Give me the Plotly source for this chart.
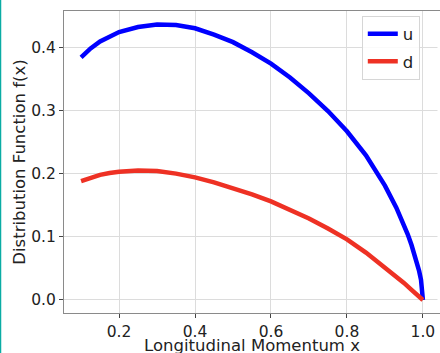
import plotly.graph_objects as go

x_u = [0.10, 0.125, 0.15, 0.175, 0.20, 0.25, 0.30, 0.35, 0.40, 0.45, 0.50, 0.55, 0.60, 0.65,
       0.70, 0.75, 0.80, 0.85, 0.90, 0.93, 0.95, 0.96, 0.97, 0.975, 0.98, 0.99,
       0.995, 1.00]
u_vals = [0.384, 0.398, 0.409, 0.417, 0.424, 0.432, 0.436, 0.435, 0.430, 0.420, 0.408, 0.392,
          0.374, 0.352, 0.327, 0.299, 0.267, 0.229, 0.181, 0.146, 0.119, 0.104,
          0.087, 0.078, 0.068, 0.046, 0.032, 0.0]

x_d = [0.10, 0.125, 0.15, 0.175, 0.20, 0.25, 0.30, 0.35, 0.40, 0.45, 0.50, 0.55, 0.60, 0.65,
       0.70, 0.75, 0.80, 0.85, 0.90, 0.95, 0.97, 0.99, 1.00]
d_vals = [0.188, 0.1935, 0.198, 0.201, 0.203, 0.205, 0.204, 0.200, 0.194, 0.186, 0.177, 0.167,
          0.156, 0.143, 0.129, 0.113, 0.096, 0.075, 0.052, 0.027, 0.016, 0.006, 0.0]

x_ticks = [0.2, 0.4, 0.6, 0.8, 1.0]
y_ticks = [0.0, 0.1, 0.2, 0.3, 0.4]

FONT = "DejaVu Sans"

fig = go.Figure()
fig.add_trace(go.Scatter(x=x_u, y=u_vals, mode="lines", name="u", legendgroup="u",
                         line=dict(color="#0000ff", width=4.5)))
fig.add_trace(go.Scatter(x=x_d, y=d_vals, mode="lines", name="d", legendgroup="d",
                         line=dict(color="#ee3124", width=4.5)))

axis_common = dict(showgrid=True, gridcolor="#dcdcdc", gridwidth=1,
                   showline=True, linecolor="#8a8a8a", linewidth=1,
                   ticks="outside", ticklen=4, tickcolor="#444", zeroline=False,
                   tickfont=dict(family=FONT, size=15.5, color="#222"))

fig.update_xaxes(range=[0.055, 1.045], tickvals=x_ticks, mirror=True, automargin=False,
                 ticktext=[f"{v:.1f}" for v in x_ticks],
                 **axis_common)
fig.update_yaxes(range=[-0.0206, 0.4573], tickvals=y_ticks, mirror=False, automargin=True,
                 ticktext=[f"{v:.1f}" for v in y_ticks],
                 title=dict(text="Distribution Function f(x)", standoff=1,
                            font=dict(family=FONT, size=16.5, color="#222")),
                 **axis_common)

fig.update_layout(
    width=440, height=353,
    margin=dict(l=64, r=0, t=11, b=40),
    paper_bgcolor="white", plot_bgcolor="white",
    showlegend=True,
    legend=dict(x=0.792, y=0.985, xanchor="left", yanchor="top",
                tracegroupgap=3,
                bgcolor="rgba(255,255,255,0.85)", bordercolor="#d6d6d6", borderwidth=1,
                font=dict(family=FONT, size=16.5, color="#222")),
)
# x-axis title, placed below the tick labels
fig.add_annotation(text="Longitudinal Momentum x", xref="paper", yref="paper",
                   x=0.5, y=-(345 - 313) / 302, xanchor="center", yanchor="middle",
                   showarrow=False, font=dict(family=FONT, size=16.5, color="#222"))
# the reference is cropped at the right, so no right spine is visible
fig.add_shape(type="rect", xref="paper", yref="paper",
              x0=1 - 2.5/376, x1=1.01, y0=0.003, y1=0.997,
              line=dict(width=0), fillcolor="white", layer="above")
# thin teal strip along the left edge of the page
fig.add_shape(type="line", xref="paper", yref="paper",
              x0=-63.5/376, x1=-63.5/376, y0=-40/302, y1=1 + 11/302,
              line=dict(color="#0aaca4", width=1.5))

fig.write_html("out.html")
